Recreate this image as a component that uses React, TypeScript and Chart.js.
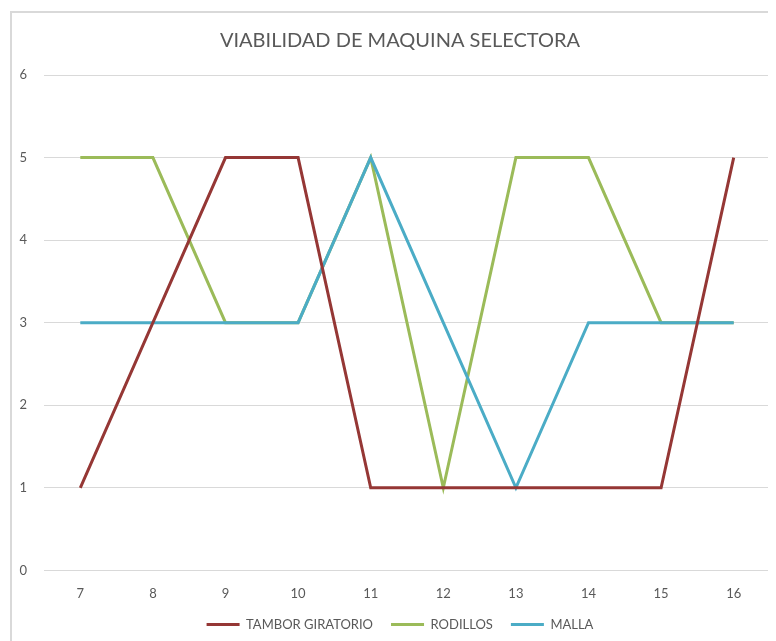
import React, { useEffect, useRef } from "react";
import { Chart, registerables } from "chart.js";

Chart.register(...registerables);

const title = "VIABILIDAD DE MAQUINA SELECTORA";
const categories = ["7", "8", "9", "10", "11", "12", "13", "14", "15", "16"];
const tambor = [1, 3, 5, 5, 1, 1, 1, 1, 1, 5];
const rodillos = [5, 5, 3, 3, 5, 1, 5, 5, 3, 3];
const malla = [3, 3, 3, 3, 5, 3, 1, 3, 3, 3];

const FONT = "Lato, 'Open Sans', sans-serif";
const LEGEND_PAD = 18;
const LEGEND_PAD_LAYOUT = 8;
const BOX_SHIFT = 12;

const layoutTweak = {
  id: "layoutTweak",
  beforeLayout(chart: any) {
    const lg = chart.legend;
    if (lg && !lg.__patched) {
      const f = lg.fit;
      lg.fit = function (this: any) {
        f.call(this);
        this.height -= LEGEND_PAD - LEGEND_PAD_LAYOUT;
      };
      lg.__patched = true;
    }
  },
  afterLayout(chart: any) {
    const lg = chart.legend;
    if (lg) {
      lg.top -= LEGEND_PAD - LEGEND_PAD_LAYOUT;
      lg.bottom -= LEGEND_PAD - LEGEND_PAD_LAYOUT;
      lg.left += BOX_SHIFT;
    }
    const tb = chart.titleBlock;
    if (tb) tb.left += BOX_SHIFT;
  },
};

export default function App() {
  const ref = useRef<HTMLCanvasElement | null>(null);
  useEffect(() => {
    if (!ref.current) return;
    const mk = (label: string, data: number[], color: string, order: number) => ({
      label,
      data,
      borderColor: color,
      backgroundColor: color,
      borderWidth: 3,
      pointRadius: 0,
      tension: 0,
      order,
    });
    const chart = new Chart(ref.current, {
      type: "line",
      data: {
        labels: categories,
        datasets: [
          mk("TAMBOR GIRATORIO", tambor, "#953735", 0),
          mk("RODILLOS", rodillos, "#9BBB59", 2),
          mk("MALLA", malla, "#4BACC6", 1),
        ],
      },
      plugins: [layoutTweak],
      options: {
        animation: false,
        responsive: false,
        layout: { padding: { left: 6, right: 6, top: 10, bottom: 0 } },
        plugins: {
          title: {
            display: true,
            text: title,
            color: "#595959",
            font: { family: FONT, size: 20, weight: "normal" },
            padding: { top: 6, bottom: 22 },
          },
          legend: {
            position: "bottom",
            labels: {
              color: "#595959",
              font: { family: FONT, size: 13 },
              boxWidth: 33,
              boxHeight: 3,
              padding: LEGEND_PAD,
              sort: (a: any, b: any) => a.datasetIndex - b.datasetIndex,
              generateLabels: (c: any) =>
                Chart.defaults.plugins.legend.labels
                  .generateLabels(c)
                  .map((l: any) => ({ ...l, lineWidth: 0 })),
            },
          },
          tooltip: { enabled: false },
        },
        scales: {
          x: {
            offset: true,
            grid: { display: false, offset: true },
            border: { display: true, color: "#d9d9d9" },
            ticks: {
              color: "#595959",
              font: { family: FONT, size: 13 },
              padding: 8,
            },
          },
          y: {
            min: 0,
            max: 6,
            afterFit: (scale: any) => {
              scale.width = 26;
            },
            grid: { color: "#d9d9d9", drawTicks: false },
            border: { display: false },
            ticks: {
              stepSize: 1,
              color: "#595959",
              font: { family: FONT, size: 13 },
              padding: 17,
            },
          },
        },
      },
    });
    return () => chart.destroy();
  }, []);
  return (
    <div
      style={{
        marginLeft: 2,
        marginTop: 3,
        width: 766,
        height: 630,
        overflow: "hidden",
        borderLeft: "2px solid #d9d9d9",
        borderTop: "2px solid #d9d9d9",
        boxSizing: "border-box",
      }}
    >
      <canvas ref={ref} width={764} height={628} style={{ display: "block" }} />
    </div>
  );
}
